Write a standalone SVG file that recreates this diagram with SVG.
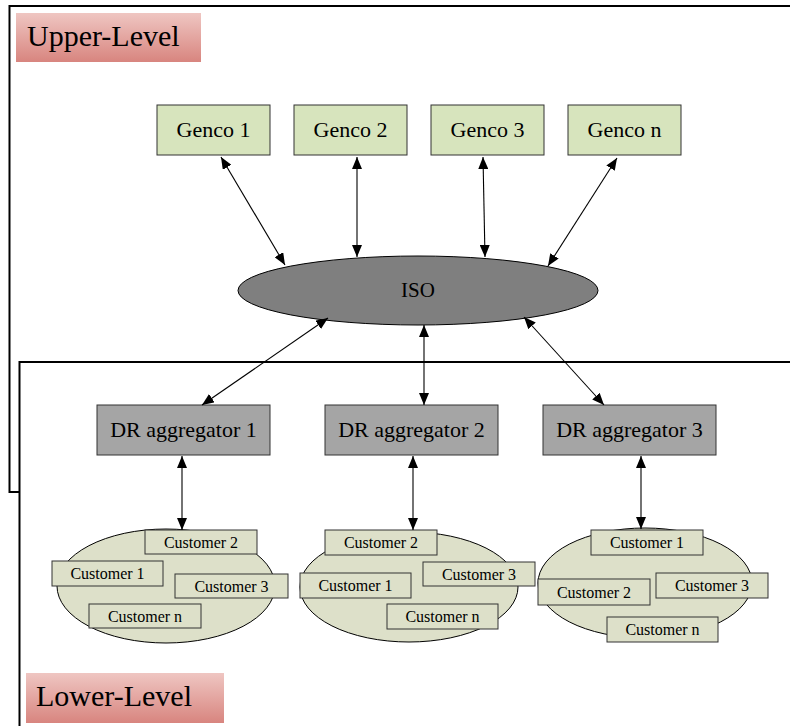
<svg xmlns="http://www.w3.org/2000/svg" width="790" height="726" viewBox="0 0 790 726">
  <defs>
    <linearGradient id="levelFill" x1="0" y1="0" x2="0" y2="1">
      <stop offset="0" stop-color="#efc6c2"/>
      <stop offset="1" stop-color="#d8857f"/>
    </linearGradient>
    <marker id="ah" markerWidth="12" markerHeight="10" refX="12" refY="5" orient="auto-start-reverse" markerUnits="userSpaceOnUse">
      <path d="M0,0 L12,5 L0,10 Z" fill="#000"/>
    </marker>
    <style>
      .frame { fill: none; stroke: #000; stroke-width: 2; }
      .level { fill: url(#levelFill); }
      .levelText { font-family: "Liberation Serif", serif; font-size: 30px; fill: #000; }
      .genco { fill: #d7e4bd; stroke: #333; stroke-width: 1; }
      .agg { fill: #a5a5a5; stroke: #333; stroke-width: 1; }
      .iso { fill: #7f7f7f; stroke: #000; stroke-width: 1; }
      .cluster { fill: #dde0c9; stroke: #000; stroke-width: 1; }
      .cust { fill: #dde0c9; stroke: #333; stroke-width: 1; }
      .t20 { font-family: "Liberation Serif", serif; font-size: 22px; fill: #000; text-anchor: middle; }
      .t18 { font-family: "Liberation Serif", serif; font-size: 21px; fill: #000; text-anchor: middle; }
      .t15 { font-family: "Liberation Serif", serif; font-size: 16px; fill: #000; text-anchor: middle; }
      .conn line { stroke: #000; stroke-width: 1.1; marker-start: url(#ah); marker-end: url(#ah); }
    </style>
  </defs>

  <!-- level frames -->
  <g id="frames">
    <path class="frame" d="M790,6 H9.5 V492 H19.5"/>
    <path class="frame" d="M790,362 H19.5 V726"/>
  </g>

  <g id="upper-level">
    <rect class="level" x="16" y="13" width="185" height="49"/>
    <text class="levelText" x="27" y="46">Upper-Level</text>
  </g>
  <g id="lower-level">
    <rect class="level" x="26" y="673" width="198" height="50"/>
    <text class="levelText" x="36" y="706">Lower-Level</text>
  </g>

  <!-- generation companies -->
  <g id="genco1"><rect class="genco" x="157" y="105" width="113" height="50"/><text class="t20" x="213.5" y="137">Genco 1</text></g>
  <g id="genco2"><rect class="genco" x="294" y="105" width="113" height="50"/><text class="t20" x="350.5" y="137">Genco 2</text></g>
  <g id="genco3"><rect class="genco" x="431" y="105" width="113" height="50"/><text class="t20" x="487.5" y="137">Genco 3</text></g>
  <g id="gencon"><rect class="genco" x="568" y="105" width="113" height="50"/><text class="t20" x="624.5" y="137">Genco n</text></g>

  <!-- system operator -->
  <g id="iso">
    <ellipse class="iso" cx="418" cy="290.5" rx="180" ry="34.5"/>
    <text class="t18" x="418" y="297">ISO</text>
  </g>

  <!-- aggregators -->
  <g id="agg1"><rect class="agg" x="97" y="405" width="173" height="50"/><text class="t20" x="183.5" y="437">DR aggregator 1</text></g>
  <g id="agg2"><rect class="agg" x="325" y="405" width="173" height="50"/><text class="t20" x="411.5" y="437">DR aggregator 2</text></g>
  <g id="agg3"><rect class="agg" x="543" y="405" width="173" height="50"/><text class="t20" x="629.5" y="437">DR aggregator 3</text></g>

  <!-- customer group 1 -->
  <g id="customers1">
    <ellipse class="cluster" cx="166" cy="586" rx="109" ry="57"/>
    <rect class="cust" x="145" y="530" width="112" height="24"/><text class="t15" x="201" y="548">Customer 2</text>
    <rect class="cust" x="52" y="561" width="111" height="25"/><text class="t15" x="107.5" y="579">Customer 1</text>
    <rect class="cust" x="175" y="574" width="113" height="24"/><text class="t15" x="231.5" y="592">Customer 3</text>
    <rect class="cust" x="89" y="604" width="112" height="24"/><text class="t15" x="145" y="622">Customer n</text>
  </g>

  <!-- customer group 2 -->
  <g id="customers2">
    <ellipse class="cluster" cx="409" cy="587" rx="109" ry="55"/>
    <rect class="cust" x="325" y="530" width="112" height="25"/><text class="t15" x="381" y="548">Customer 2</text>
    <rect class="cust" x="423" y="562" width="112" height="24"/><text class="t15" x="479" y="580">Customer 3</text>
    <rect class="cust" x="300" y="573" width="111" height="25"/><text class="t15" x="355.5" y="591">Customer 1</text>
    <rect class="cust" x="387" y="604" width="111" height="25"/><text class="t15" x="442.5" y="622">Customer n</text>
  </g>

  <!-- customer group 3 -->
  <g id="customers3">
    <ellipse class="cluster" cx="645" cy="583" rx="107" ry="55"/>
    <rect class="cust" x="591" y="530" width="112" height="25"/><text class="t15" x="647" y="548">Customer 1</text>
    <rect class="cust" x="538" y="579" width="112" height="26"/><text class="t15" x="594" y="598">Customer 2</text>
    <rect class="cust" x="656" y="573" width="112" height="25"/><text class="t15" x="712" y="591">Customer 3</text>
    <rect class="cust" x="607" y="617" width="111" height="25"/><text class="t15" x="662.5" y="635">Customer n</text>
  </g>

  <!-- two-way connectors -->
  <g id="connectors" class="conn">
    <line x1="221" y1="157" x2="285" y2="265"/>
    <line x1="357" y1="157" x2="357" y2="257"/>
    <line x1="483" y1="157" x2="485" y2="257"/>
    <line x1="617" y1="158" x2="548" y2="266"/>
    <line x1="328" y1="318" x2="202" y2="405"/>
    <line x1="424" y1="325" x2="424" y2="405"/>
    <line x1="524" y1="317" x2="604" y2="405"/>
    <line x1="182" y1="456" x2="182" y2="530"/>
    <line x1="413" y1="456" x2="413" y2="530"/>
    <line x1="641" y1="456" x2="641" y2="529"/>
  </g>
</svg>
